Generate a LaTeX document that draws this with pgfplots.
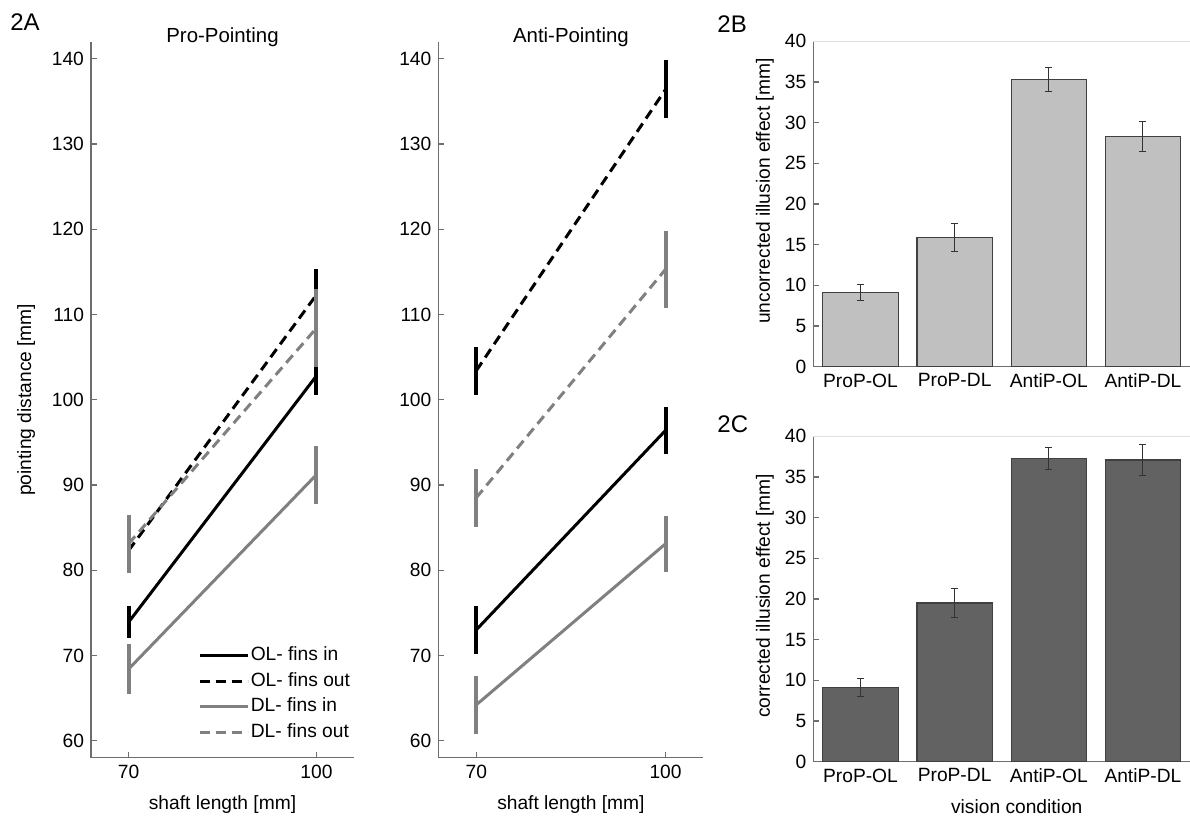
\documentclass[border=0pt]{standalone}
\usepackage{fontspec}
\setmainfont{Liberation Sans}
\usepackage{pgfplots}
\pgfplotsset{compat=1.18}
\definecolor{lgray}{HTML}{808080}
\definecolor{barB}{HTML}{C0C0C0}
\definecolor{barC}{HTML}{626262}
\definecolor{axgray}{HTML}{6E6E6E}
\definecolor{edge}{HTML}{404040}
\newcommand{\fs}{\fontsize{9.6}{11.5}\selectfont}

\pgfplotsset{
  base/.style={scale only axis, axis lines=left,
    axis line style={-, axgray, line width=0.6pt},
    tick align=inside, major tick length=3pt,
    tick style={axgray, line width=0.6pt},
    tick label style={font=\fs, /pgf/number format/assume math mode=true},
    label style={font=\fs}, clip=false},
  lines/.style={base, width=131.5pt, height=358pt,
    xmin=64, xmax=106, ymin=58, ymax=142,
    xtick={70,100}, ytick={60,70,...,140},
    xlabel={shaft length [mm]},
    title style={font=\fontsize{10.2}{12}\selectfont, at={(0.5,1)}, anchor=base, yshift=-6.5pt},
    xlabel style={at={(axis description cs:0.5,0)}, anchor=center, yshift=-23.5pt}},
  bars/.style={base, width=188.3pt, height=162.7pt,
    xmin=0.5, xmax=4.5, ymin=0, ymax=40,
    ytick={0,5,...,40}, xtick={1,2,3,4},
    xticklabels={ProP-OL,ProP-DL,AntiP-OL,AntiP-DL}},
  ser/.style={line width=1.5pt, mark=none,
    error bars/y dir=both, error bars/y explicit,
    error bars/error mark=none,
    error bars/error bar style={solid, line width=2pt}},
  dsh/.style={dash pattern=on 5pt off 3pt},
  barerr/.style={error bars/y dir=both, error bars/y explicit,
    error bars/error bar style={black!80, line width=0.5pt},
    error bars/error mark options={rotate=90, black!80, line width=0.5pt, mark size=1.75pt}},
}

\begin{document}
\begin{tikzpicture}
\path[use as bounding box] (0pt,0pt) rectangle (595pt,-410.5pt);

% 2A pro-pointing
\begin{axis}[lines, at={(45.5pt,-378.85pt)}, anchor=south west,
  title={Pro-Pointing}, ylabel={pointing distance [mm]},
  ylabel style={at={(axis description cs:-0.247,0.5)}, anchor=center},
  legend style={at={(1,0.02)}, anchor=south east, xshift=-1pt, draw=none, fill=none,
    font=\fs, row sep=2.2pt, inner sep=0pt,
    nodes={inner sep=0.8pt, text height=7pt, text depth=2pt}},
  legend cell align=left,
  legend image code/.code={\draw[#1] (-1pt,0pt) -- (23pt,0pt);}]
\addplot[ser, black] table[y error=e] {
x y e
70 73.9 1.9
100 102.8 2.2
};
\addplot[ser, dsh, black] table[y error=e] {
x y e
70 82.3 2.5
100 112.3 3.0
};
\addplot[ser, lgray] table[y error=e] {
x y e
70 68.4 2.9
100 91.2 3.4
};
\addplot[ser, dsh, lgray] table[y error=e] {
x y e
70 83.1 3.4
100 108.4 4.6
};
\legend{OL- fins in, OL- fins out, DL- fins in, DL- fins out}
\end{axis}

% 2A anti-pointing
\begin{axis}[lines, at={(219.2pt,-378.85pt)}, anchor=south west,
  width=132.5pt, title={Anti-Pointing}]
\addplot[ser, black] table[y error=e] {
x y e
70 73.0 2.8
100 96.4 2.8
};
\addplot[ser, dsh, black] table[y error=e] {
x y e
70 103.4 2.8
100 136.4 3.4
};
\addplot[ser, lgray] table[y error=e] {
x y e
70 64.2 3.4
100 83.1 3.3
};
\addplot[ser, dsh, lgray] table[y error=e] {
x y e
70 88.5 3.4
100 115.3 4.5
};
\end{axis}

% 2B uncorrected
\begin{axis}[bars, at={(406.7pt,-183.35pt)}, anchor=south west,
  ylabel={uncorrected illusion effect [mm]},
  ylabel style={at={(axis description cs:-0.1285,0.54)}, anchor=center}]
\draw[black!12] (rel axis cs:0,1) -- (rel axis cs:1,1);
\addplot[ybar, bar width=0.8, bar shift=0pt, fill=barB, draw=edge, line width=0.6pt, barerr]
  table[y error=e] {
x y e
1 9.1 1.0
2 15.9 1.75
3 35.3 1.5
4 28.3 1.85
};
\end{axis}

% 2C corrected
\begin{axis}[bars, at={(406.7pt,-380.85pt)}, anchor=south west,
  ylabel={corrected illusion effect [mm]},
  ylabel style={at={(axis description cs:-0.1285,0.51)}, anchor=center},
  xlabel={vision condition},
  xlabel style={at={(axis description cs:0.54,0)}, anchor=center, yshift=-22.5pt}]
\draw[black!12] (rel axis cs:0,1) -- (rel axis cs:1,1);
\addplot[ybar, bar width=0.8, bar shift=0pt, fill=barC, draw=edge, line width=0.6pt, barerr]
  table[y error=e] {
x y e
1 9.15 1.1
2 19.5 1.8
3 37.3 1.35
4 37.1 1.9
};
\end{axis}

\node[font=\fontsize{12}{14}\selectfont, anchor=north west, inner sep=0pt] at (5pt,-6.5pt) {2A};
\node[font=\fontsize{12}{14}\selectfont, anchor=north west, inner sep=0pt] at (358.5pt,-7.5pt) {2B};
\node[font=\fontsize{12}{14}\selectfont, anchor=north west, inner sep=0pt] at (358.5pt,-207.5pt) {2C};
\end{tikzpicture}
\end{document}
